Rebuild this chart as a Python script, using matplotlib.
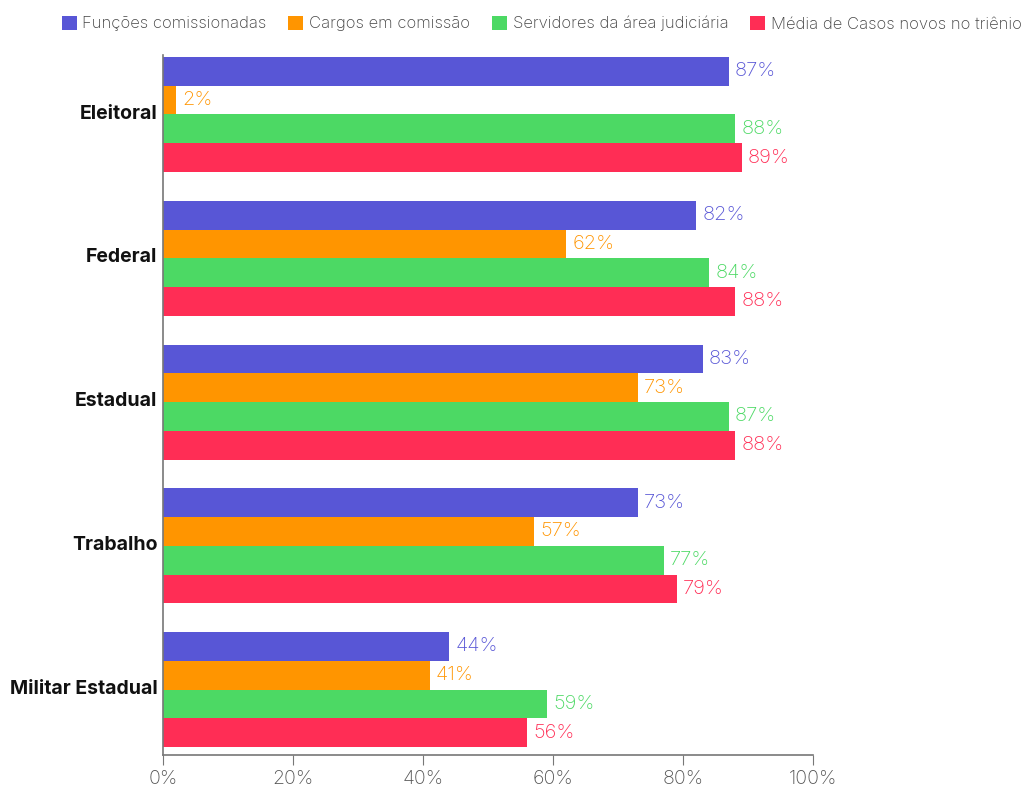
import matplotlib
matplotlib.use("Agg")
import matplotlib.pyplot as plt
import numpy as np

categories = ["Eleitoral", "Federal", "Estadual", "Trabalho", "Militar Estadual"]
series_names = ["Funções comissionadas", "Cargos em comissão",
                "Servidores da área judiciária", "Média de Casos novos no triênio"]
funcoes = [87, 82, 83, 73, 44]
cargos = [2, 62, 73, 57, 41]
servidores = [88, 84, 87, 77, 59]
media_casos = [89, 88, 88, 79, 56]
series_values = [funcoes, cargos, servidores, media_casos]
colors = ["#5856D6", "#FF9500", "#4CD964", "#FF2D55"]
x_ticks = [0, 20, 40, 60, 80, 100]

plt.rcParams["font.family"] = ["Inter", "DejaVu Sans"]

fig = plt.figure(figsize=(10.24, 7.91), dpi=100)
ax = fig.add_axes([0.1592, 0.0455, 0.6348, 0.885])

bar_h = 0.2
y = np.arange(len(categories))
for i, (name, vals, c) in enumerate(zip(series_names, series_values, colors)):
    pos = y - 0.3 + i * bar_h
    ax.barh(pos, vals, height=bar_h, color=c, label=name)
    for p, v in zip(pos, vals):
        ax.text(v + 1.0, p, f"{v}%", va="center", ha="left",
                fontsize=14.5, color=c, fontweight="light")

ax.set_ylim(4.455, -0.414)
ax.set_xlim(0, 100)
ax.set_yticks(y - 0.02)
ax.set_yticklabels(categories, fontsize=14, fontweight="bold", color="#111111",
                   va="center_baseline")
ax.tick_params(axis="y", length=0, pad=4)
ax.set_xticks(x_ticks)
ax.set_xticklabels([f"{t}%" for t in x_ticks], fontsize=14, color="#555555",
                   fontweight="light")
ax.tick_params(axis="x", length=7, color="#777777", pad=4)
for s in ["top", "right"]:
    ax.spines[s].set_visible(False)
for s in ["left", "bottom"]:
    ax.spines[s].set_color("#777777")
    ax.spines[s].set_linewidth(1.2)

leg = fig.legend(loc="upper center", bbox_to_anchor=(0.529, 0.999), ncol=4,
                 frameon=False, handlelength=0.9, handleheight=0.9,
                 handletextpad=0.35, columnspacing=1.3, fontsize=12)
for t in leg.get_texts():
    t.set_color("#444444")
    t.set_fontweight("light")

fig.savefig("out.png", dpi=100)
